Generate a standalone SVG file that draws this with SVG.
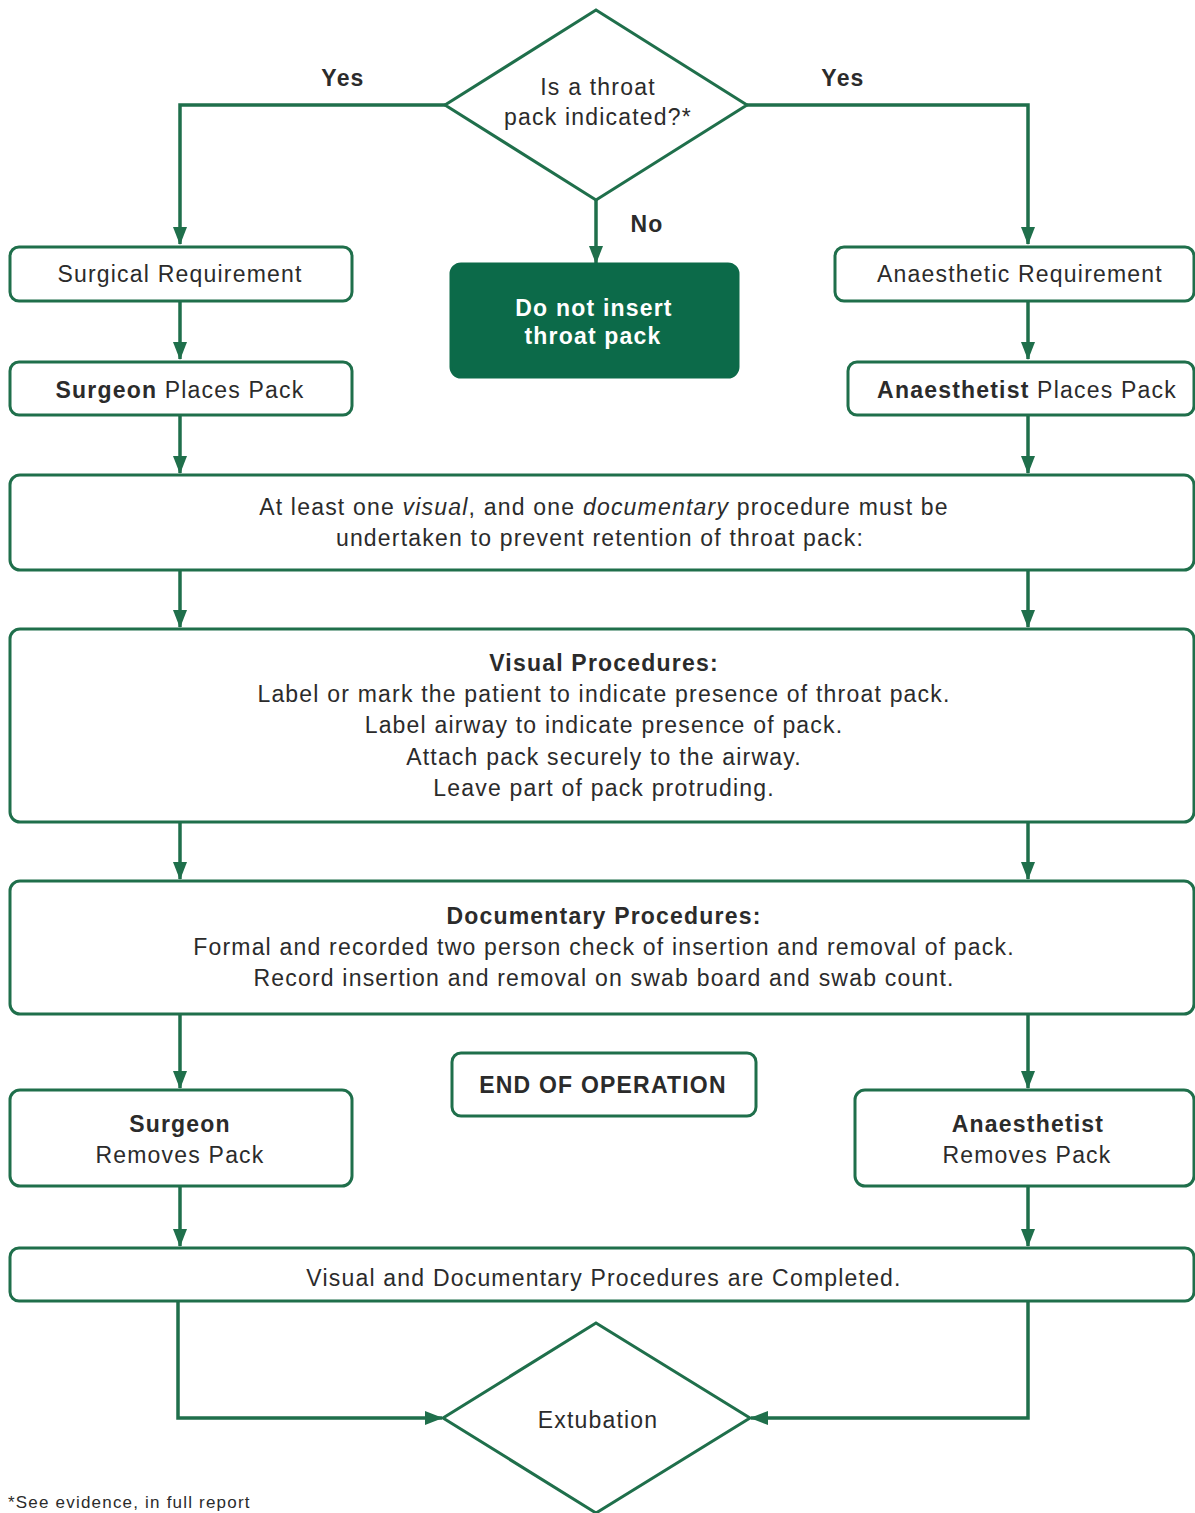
<svg xmlns="http://www.w3.org/2000/svg" width="1195" height="1513" viewBox="0 0 1195 1513">
<defs>
<style>
.box{fill:#fff;stroke:#1f6f4b;stroke-width:3}
.dia{fill:#fff;stroke:#1f6f4b;stroke-width:3}
.dark{fill:#0c6a49;stroke:#0c6a49;stroke-width:3}
.ln{fill:none;stroke:#1f6f4b;stroke-width:3.5}
text{font-family:"Liberation Sans",Arial,sans-serif;font-size:23px;letter-spacing:1.2px;fill:#2b2b2b;text-anchor:middle}
.b{font-weight:bold}
.w{fill:#fff;font-weight:bold}
.foot{font-size:17px;text-anchor:start}
</style>
<marker id="ah" markerUnits="userSpaceOnUse" markerWidth="18" markerHeight="16" viewBox="0 0 18 16" refX="17" refY="8" orient="auto">
<path d="M0,1 L18,8 L0,15 Z" fill="#1f6f4b"/>
</marker>
</defs>
<rect width="1195" height="1513" fill="#fff"/>

<g id="connectors">
<path class="ln" d="M445,105 H180 V244" marker-end="url(#ah)"/>
<path class="ln" d="M747,105 H1028 V244" marker-end="url(#ah)"/>
<path class="ln" d="M596,200 V263" marker-end="url(#ah)"/>
<path class="ln" d="M180,301 V359" marker-end="url(#ah)"/>
<path class="ln" d="M1028,301 V359" marker-end="url(#ah)"/>
<path class="ln" d="M180,415 V473" marker-end="url(#ah)"/>
<path class="ln" d="M1028,415 V473" marker-end="url(#ah)"/>
<path class="ln" d="M180,570 V627" marker-end="url(#ah)"/>
<path class="ln" d="M1028,570 V627" marker-end="url(#ah)"/>
<path class="ln" d="M180,822 V879" marker-end="url(#ah)"/>
<path class="ln" d="M1028,822 V879" marker-end="url(#ah)"/>
<path class="ln" d="M180,1014 V1088" marker-end="url(#ah)"/>
<path class="ln" d="M1028,1014 V1088" marker-end="url(#ah)"/>
<path class="ln" d="M180,1186 V1246" marker-end="url(#ah)"/>
<path class="ln" d="M1028,1186 V1246" marker-end="url(#ah)"/>
<path class="ln" d="M178,1301 V1418 H442" marker-end="url(#ah)"/>
<path class="ln" d="M1028,1301 V1418 H751" marker-end="url(#ah)"/>
<text class="b" x="343" y="86">Yes</text>
<text class="b" x="843" y="86">Yes</text>
<text class="b" x="647" y="232">No</text>
</g>

<g id="decision">
<polygon class="dia" points="596,10 747,105 596,200 445,105"/>
<text x="598" y="95">Is a throat</text>
<text x="598" y="125">pack indicated?*</text>
</g>

<g id="surgical-req">
<rect class="box" x="10" y="247" width="342" height="54" rx="9"/>
<text x="180" y="282">Surgical Requirement</text>
</g>

<g id="do-not-insert">
<rect class="dark" x="451" y="264" width="287" height="113" rx="10"/>
<text class="w" x="594" y="316">Do not insert</text>
<text class="w" x="593" y="344">throat pack</text>
</g>

<g id="anaesthetic-req">
<rect class="box" x="835" y="247" width="359" height="54" rx="9"/>
<text x="1020" y="282">Anaesthetic Requirement</text>
</g>

<g id="surgeon-places">
<rect class="box" x="10" y="362" width="342" height="53" rx="9"/>
<text x="180" y="398"><tspan class="b">Surgeon</tspan> Places Pack</text>
</g>

<g id="anaesthetist-places">
<rect class="box" x="848" y="362" width="346" height="53" rx="9"/>
<text x="1027" y="398"><tspan class="b">Anaesthetist</tspan> Places Pack</text>
</g>

<g id="at-least">
<rect class="box" x="10" y="475" width="1184" height="95" rx="10"/>
<text x="604" y="515">At least one <tspan font-style="italic">visual</tspan>, and one <tspan font-style="italic">documentary</tspan> procedure must be</text>
<text x="600" y="546">undertaken to prevent retention of throat pack:</text>
</g>

<g id="visual">
<rect class="box" x="10" y="629" width="1184" height="193" rx="10"/>
<text class="b" x="604" y="671">Visual Procedures:</text>
<text x="604" y="702">Label or mark the patient to indicate presence of throat pack.</text>
<text x="604" y="733">Label airway to indicate presence of pack.</text>
<text x="604" y="765">Attach pack securely to the airway.</text>
<text x="604" y="796">Leave part of pack protruding.</text>
</g>

<g id="documentary">
<rect class="box" x="10" y="881" width="1184" height="133" rx="10"/>
<text class="b" x="604" y="924">Documentary Procedures:</text>
<text x="604" y="955">Formal and recorded two person check of insertion and removal of pack.</text>
<text x="604" y="986">Record insertion and removal on swab board and swab count.</text>
</g>

<g id="end-op">
<rect class="box" x="452" y="1053" width="304" height="63" rx="9"/>
<text class="b" x="603" y="1093">END OF OPERATION</text>
</g>

<g id="surgeon-removes">
<rect class="box" x="10" y="1090" width="342" height="96" rx="10"/>
<text class="b" x="180" y="1132">Surgeon</text>
<text x="180" y="1163">Removes Pack</text>
</g>

<g id="anaesthetist-removes">
<rect class="box" x="855" y="1090" width="339" height="96" rx="10"/>
<text class="b" x="1028" y="1132">Anaesthetist</text>
<text x="1027" y="1163">Removes Pack</text>
</g>

<g id="completed">
<rect class="box" x="10" y="1248" width="1184" height="53" rx="9"/>
<text x="604" y="1286">Visual and Documentary Procedures are Completed.</text>
</g>

<g id="extubation">
<polygon class="dia" points="596,1323 750,1418 596,1513 443,1418"/>
<text x="598" y="1428">Extubation</text>
</g>

<text class="foot" x="8" y="1508">*See evidence, in full report</text>
</svg>
